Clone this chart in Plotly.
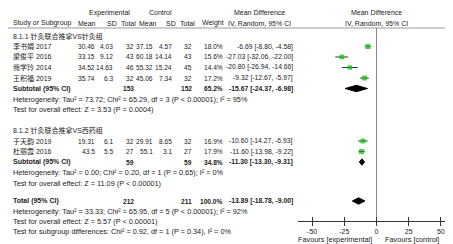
import plotly.graph_objects as go

W, H = 453, 244

# ---------------- data ----------------
studies = ["李书娟 2017", "梁俊平 2016", "熊学玲 2014", "王积福 2019", "于天韵 2019", "杜丽霞 2016"]
exp_mean = [30.46, 33.15, 34.52, 35.74, 19.31, 43.5]
exp_sd = [4.03, 9.12, 14.63, 6.3, 6.1, 5.5]
exp_n = [32, 43, 46, 32, 32, 27]
ctl_mean = [37.15, 60.18, 55.32, 45.06, 29.91, 55.1]
ctl_sd = [4.57, 14.14, 15.24, 7.34, 8.65, 3.1]
ctl_n = [32, 43, 45, 32, 32, 27]
weight = [18.0, 15.6, 14.4, 17.2, 16.9, 17.9]
md = [-6.69, -27.03, -20.80, -9.32, -10.60, -11.60]
md_lo = [-8.80, -32.06, -26.94, -12.67, -14.27, -13.98]
md_hi = [-4.58, -22.00, -14.66, -5.97, -6.93, -9.22]

group_labels = ["8.1.1 针灸联合推拿VS针灸组", "8.1.2 针灸联合推拿VS西药组"]
sum_labels = ["Subtotal (95% CI)", "Subtotal (95% CI)", "Total (95% CI)"]
sum_exp_n = [153, 59, 212]
sum_ctl_n = [152, 59, 211]
sum_weight = [65.2, 34.8, 100.0]
sum_md = [-15.67, -11.30, -13.89]
sum_lo = [-24.37, -13.30, -18.78]
sum_hi = [-6.98, -9.31, -9.00]

het_texts = [
    "Heterogeneity: Tau² = 73.72; Chi² = 65.29, df = 3 (P < 0.00001); I² = 95%",
    "Heterogeneity: Tau² = 0.00; Chi² = 0.20, df = 1 (P = 0.65); I² = 0%",
    "Heterogeneity: Tau² = 33.33; Chi² = 65.95, df = 5 (P < 0.00001); I² = 92%",
]
overall_texts = [
    "Test for overall effect: Z = 3.53 (P = 0.0004)",
    "Test for overall effect: Z = 11.09 (P < 0.00001)",
    "Test for overall effect: Z = 5.57 (P < 0.00001)",
]
subgroup_text = "Test for subgroup differences: Chi² = 0.92, df = 1 (P = 0.34), I² = 0%"

tick_vals = [-50, -25, 0, 25, 50]
tick_text = ["-50", "-25", "0", "25", "50"]
fav_left = "Favours [experimental]"
fav_right = "Favours [control]"

# ---------------- layout positions (pixels) ----------------
study_y = [38.5, 49, 59.5, 70, 133, 143.5]
group_y = [28, 122.5]
sum_y = [80.5, 154, 193]
het_y = [91, 164.5, 203]
overall_y = [101.5, 175, 213]
subgroup_y = 223
line_y = 20
axis_y = 213
plot_x0, plot_x1 = 290, 447
xr = [-61, 61]

FONT = "Liberation Sans Narrow, Arial Narrow, Liberation Sans, Noto Sans CJK SC, sans-serif"
FS = 7
FS_NUM = 6.6
FS_LONG = 7.3
TC = "#222222"

def px(x):
    return x / W

def py(y):
    return 1 - y / H

anns = []

def txt(x, y, s, anchor="left", bold=False, size=FS):
    if bold:
        s = "<b>" + s + "</b>"
    anns.append(dict(x=px(x), y=py(y), xref="paper", yref="paper", text=s,
                     showarrow=False, xanchor=anchor, yanchor="middle",
                     font=dict(family=FONT, size=size, color=TC)))

# column right edges
C_EM, C_ESD, C_EN, C_CM, C_CSD, C_CN, C_W, C_MD = 89, 107, 128, 146.5, 166, 186, 217, 287

# headers
txt(101, 5, "Experimental", "center")
txt(152, 5, "Control", "center")
txt(252, 5, "Mean Difference", "center")
txt(368, 5, "Mean Difference", "center")
txt(3, 15, "Study or Subgroup", "left")
txt(78.5, 15, "Mean", "center")
txt(111, 15, "SD", "right")
txt(129.5, 15, "Total", "right")
txt(140, 15, "Mean", "center")
txt(170, 15, "SD", "right")
txt(189, 15, "Total", "right")
txt(218, 15, "Weight", "right")
txt(252, 15, "IV, Random, 95% CI", "center")
txt(368, 15, "IV, Random, 95% CI", "center")

for g, gy in enumerate(group_y):
    txt(3, gy, group_labels[g], "left")

for i, s in enumerate(studies):
    y = study_y[i]
    txt(3, y, s)
    txt(C_EM, y, str(exp_mean[i]), "right", size=FS_NUM)
    txt(C_ESD, y, str(exp_sd[i]), "right", size=FS_NUM)
    txt(C_EN, y, str(exp_n[i]), "right", size=FS_NUM)
    txt(C_CM, y, str(ctl_mean[i]), "right", size=FS_NUM)
    txt(C_CSD, y, str(ctl_sd[i]), "right", size=FS_NUM)
    txt(C_CN, y, str(ctl_n[i]), "right", size=FS_NUM)
    txt(C_W, y, "%.1f%%" % weight[i], "right", size=FS_NUM)
    txt(C_MD, y, "%.2f [%.2f, %.2f]" % (md[i], md_lo[i], md_hi[i]), "right", size=6.8)

for k in range(3):
    y = sum_y[k]
    txt(3, y, sum_labels[k], "left", True)
    txt(C_EN, y, str(sum_exp_n[k]), "right", True, size=FS_NUM)
    txt(C_CN, y, str(sum_ctl_n[k]), "right", True, size=FS_NUM)
    txt(C_W, y, "%.1f%%" % sum_weight[k], "right", True, size=FS_NUM)
    txt(C_MD, y, "%.2f [%.2f, %.2f]" % (sum_md[k], sum_lo[k], sum_hi[k]), "right", True, size=6.8)
    txt(3, het_y[k], het_texts[k], size=FS_LONG)
    txt(3, overall_y[k], overall_texts[k], size=FS_LONG)
txt(3, subgroup_y, subgroup_text, size=FS_LONG)

txt(366, 231, fav_left, "right", size=FS_LONG)
txt(375, 231, fav_right, "left", size=FS_LONG)

fig = go.Figure()

# CI lines
cx, cy = [], []
for i in range(len(md)):
    cx += [md_lo[i], md_hi[i], None]
    cy += [study_y[i], study_y[i], None]
fig.add_trace(go.Scatter(x=cx, y=cy, mode="lines", line=dict(color="#333333", width=1),
                         xaxis="x", yaxis="y2", hoverinfo="skip", showlegend=False))
# squares
fig.add_trace(go.Scatter(x=md, y=study_y, mode="markers",
                         marker=dict(symbol="square", color="#00c000",
                                     size=[2.2 + w * 0.16 for w in weight], line=dict(width=0)),
                         xaxis="x", yaxis="y2", hoverinfo="skip", showlegend=False))
# diamonds
DH = 3.2
for k in range(3):
    y = sum_y[k]
    fig.add_trace(go.Scatter(x=[sum_lo[k], sum_md[k], sum_hi[k], sum_md[k], sum_lo[k]],
                             y=[y, y - DH, y, y + DH, y],
                             mode="lines", fill="toself", fillcolor="black",
                             line=dict(color="black", width=1),
                             xaxis="x", yaxis="y2", hoverinfo="skip", showlegend=False))
# invisible trace so the upper tick axis renders
fig.add_trace(go.Scatter(x=[tick_vals[0]], y=[axis_y], mode="markers", opacity=0,
                         xaxis="x2", yaxis="y2", hoverinfo="skip", showlegend=False))

fig.update_layout(
    width=W, height=H, margin=dict(l=0, r=0, t=0, b=0),
    paper_bgcolor="white", plot_bgcolor="white",
    annotations=anns,
    xaxis=dict(domain=[px(plot_x0), px(plot_x1)], range=xr, anchor="y2",
               tickvals=tick_vals, ticktext=tick_text, ticks="outside", ticklen=4,
               tickcolor="#333333", showline=True, linecolor="#333333", linewidth=1,
               zeroline=True, zerolinecolor="#888888", zerolinewidth=1,
               showgrid=False, tickfont=dict(family=FONT, size=FS, color=TC), fixedrange=True),
    xaxis2=dict(domain=[px(plot_x0), px(plot_x1)], range=xr, anchor="y2", overlaying="x",
                side="bottom", tickvals=tick_vals, ticks="inside", ticklen=4, tickcolor="#333333",
                showticklabels=False, showline=False, zeroline=False, showgrid=False,
                fixedrange=True),
    yaxis2=dict(domain=[py(axis_y), py(line_y)], range=[axis_y, line_y], anchor="x",
                visible=False, fixedrange=True),
    shapes=[dict(type="line", xref="paper", yref="paper", x0=0, x1=1,
                 y0=py(line_y), y1=py(line_y), line=dict(color="#999999", width=1))],
)

fig.write_html("out.html")
